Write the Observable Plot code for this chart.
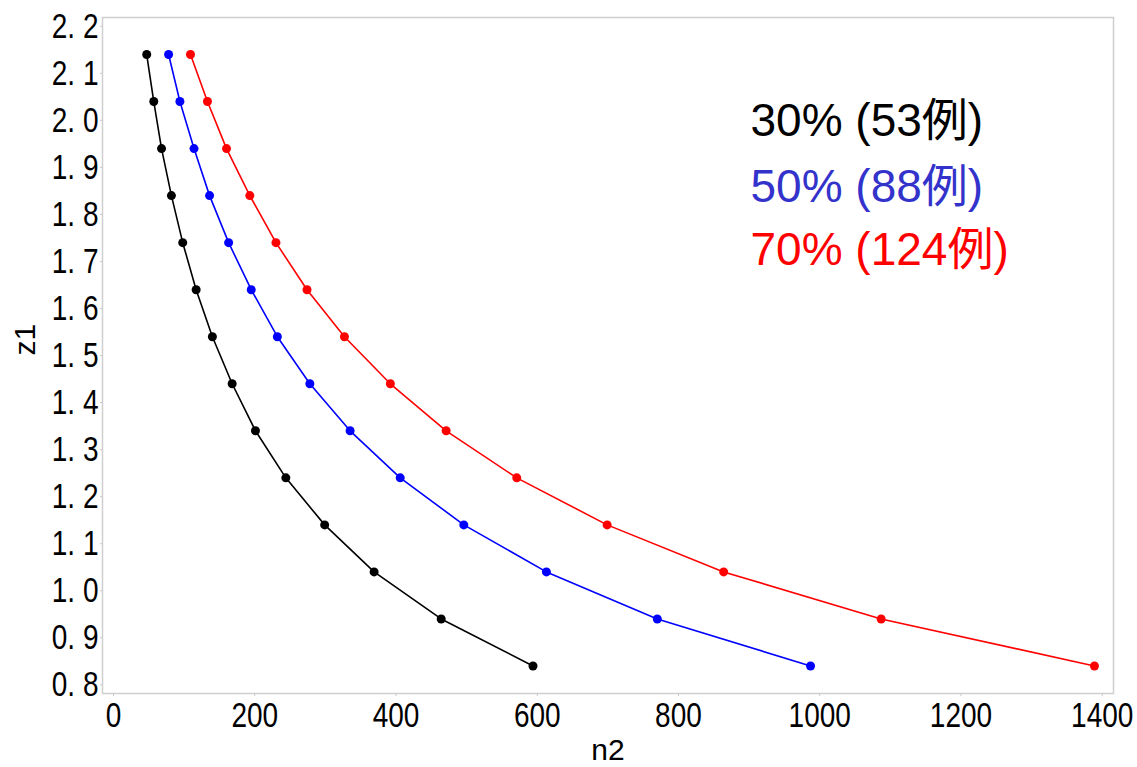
<!DOCTYPE html>
<html>
<head>
<meta charset="utf-8">
<script src="https://cdn.jsdelivr.net/npm/d3@7"></script>
<script src="https://cdn.jsdelivr.net/npm/@observablehq/plot@0.6"></script>
<style>
  html, body { margin: 0; padding: 0; background: #fff; }
  #chart svg { display: block; }
</style>
</head>
<body>
<div id="chart"></div>
<script>
// z1 values (y axis) – one per point, top to bottom
const z1Values = [2.14, 2.04, 1.94, 1.84, 1.74, 1.64, 1.54, 1.44, 1.34, 1.24, 1.14, 1.04, 0.94, 0.84];
// n2 values for each series (x axis)
const n2_30 = [47, 57, 68, 82, 98, 117, 140, 168, 201, 244, 299, 369, 464, 594];
const n2_50 = [78, 94, 114, 136, 163, 195, 232, 278, 335, 406, 496, 613, 770, 987];
const n2_70 = [109, 133, 160, 193, 230, 274, 327, 392, 471, 571, 699, 864, 1087, 1389];

const seriesNames = ["30%", "50%", "70%"];
const seriesColors = ["#000000", "#0000ff", "#ff0000"];
const legendLabels = ["30% (53例)", "50% (88例)", "70% (124例)"];
const legendColors = ["#000000", "#3333cc", "#ff0000"];

const xTicks = [0, 200, 400, 600, 800, 1000, 1200, 1400];
const yTicks = [0.8, 0.9, 1.0, 1.1, 1.2, 1.3, 1.4, 1.5, 1.6, 1.7, 1.8, 1.9, 2.0, 2.1, 2.2];
const xLabel = "n2";
const yLabel = "z1";

const seriesN = [n2_30, n2_50, n2_70];
const data = [];
seriesN.forEach((arr, s) => {
  arr.forEach((n, i) => data.push({series: seriesNames[s], n2: n, z1: z1Values[i]}));
});

const tickFont = "'Liberation Sans', Arial, sans-serif";
const legendFont = "'Liberation Sans', Arial, 'Noto Sans CJK JP', sans-serif";

const legendDy = [104, 170, 233];

const chart = Plot.plot({
  width: 1137,
  height: 767,
  marginLeft: 102,
  marginRight: 24,
  marginTop: 17,
  marginBottom: 74,
  style: {fontFamily: tickFont, background: "#fff", color: "#000"},
  x: {domain: [-15.6, 1416], label: null},
  y: {domain: [0.7815, 2.2187], label: null},
  color: {domain: seriesNames, range: seriesColors},
  marks: [
    Plot.frame({stroke: "#cfcfcf", strokeWidth: 1.5}),
    Plot.axisX({ticks: xTicks, tickSize: 3, stroke: "#c8c8c8", tickPadding: 6, fontSize: 35, tickFormat: d => String(d), label: null}),
    Plot.axisY({ticks: yTicks, tickSize: 2, stroke: "#c8c8c8", tickPadding: 2, fontSize: 35, tickFormat: d => d.toFixed(1).replace(".", ". "), label: null}),
    Plot.line(data, {x: "n2", y: "z1", z: "series", stroke: "series", strokeWidth: 1.6}),
    Plot.dot(data, {x: "n2", y: "z1", fill: "series", r: 4.5, stroke: null}),
    Plot.text([xLabel], {frameAnchor: "bottom", dy: 57, lineAnchor: "middle", fontSize: 30, fontFamily: tickFont, fill: "#000", ariaLabel: "xlabel"}),
    Plot.text([yLabel], {frameAnchor: "left", dx: -77, rotate: -90, lineAnchor: "middle", fontSize: 30, fontFamily: tickFont, fill: "#000", ariaLabel: "ylabel"}),
    ...legendLabels.map((lab, i) => Plot.text([lab], {
      frameAnchor: "top-left", textAnchor: "start", lineAnchor: "middle",
      dx: 648, dy: legendDy[i], fontSize: 46, fontFamily: legendFont, fill: legendColors[i]
    }))
  ]
});

// Narrow the tick / axis-label glyphs to mimic the condensed Japanese UI font of the original
function narrow(sel, k) {
  chart.querySelectorAll(sel).forEach(t => {
    const tr = t.getAttribute("transform");
    if (tr) {
      t.setAttribute("transform", tr + ` scale(${k},1)`);
    } else {
      const x = +(t.getAttribute("x") || 0), y = +(t.getAttribute("y") || 0);
      t.removeAttribute("x"); t.removeAttribute("y");
      t.setAttribute("transform", `translate(${x},${y}) scale(${k},1)`);
    }
  });
}
narrow('g[aria-label="x-axis tick label"] text', 0.8);
narrow('g[aria-label="y-axis tick label"] text', 0.8);
narrow('g[aria-label="xlabel"] text', 0.85);

document.getElementById("chart").appendChild(chart);
</script>
</body>
</html>
